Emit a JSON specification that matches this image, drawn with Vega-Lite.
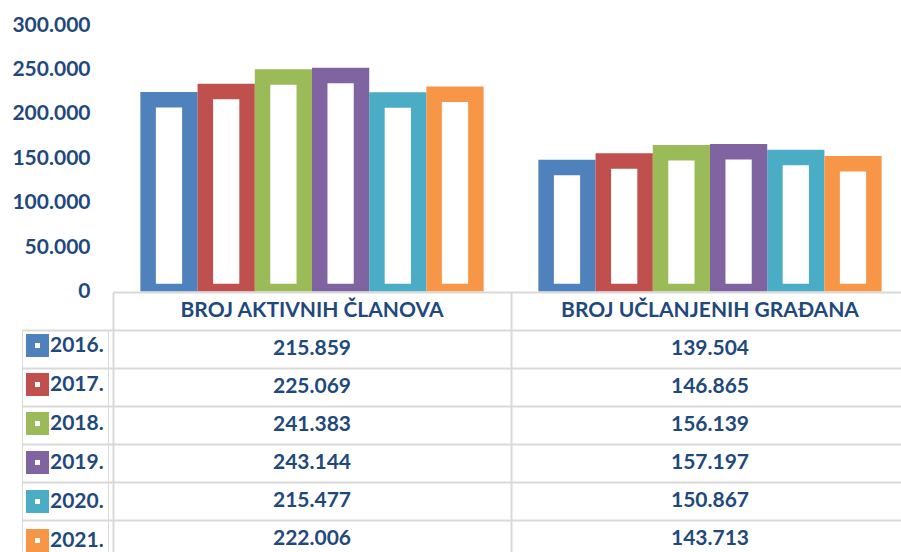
{
  "$schema": "https://vega.github.io/schema/vega-lite/v6.json",
  "autosize": {"type": "pad"},
  "padding": {"left": 11, "top": 14, "right": 0, "bottom": 0},
  "background": "white",
  "spacing": 0,
  "bounds": "flush",
  "config": {
    "locale": {"number": {"decimal": ",", "thousands": ".", "grouping": [3], "currency": ["", ""]}},
    "view": {"stroke": null},
    "font": "Lato"
  },
  "datasets": {
    "members": [
      {"category": "BROJ AKTIVNIH ČLANOVA", "year": "2016.", "value": 215859},
      {"category": "BROJ AKTIVNIH ČLANOVA", "year": "2017.", "value": 225069},
      {"category": "BROJ AKTIVNIH ČLANOVA", "year": "2018.", "value": 241383},
      {"category": "BROJ AKTIVNIH ČLANOVA", "year": "2019.", "value": 243144},
      {"category": "BROJ AKTIVNIH ČLANOVA", "year": "2020.", "value": 215477},
      {"category": "BROJ AKTIVNIH ČLANOVA", "year": "2021.", "value": 222006},
      {"category": "BROJ UČLANJENIH GRAĐANA", "year": "2016.", "value": 139504},
      {"category": "BROJ UČLANJENIH GRAĐANA", "year": "2017.", "value": 146865},
      {"category": "BROJ UČLANJENIH GRAĐANA", "year": "2018.", "value": 156139},
      {"category": "BROJ UČLANJENIH GRAĐANA", "year": "2019.", "value": 157197},
      {"category": "BROJ UČLANJENIH GRAĐANA", "year": "2020.", "value": 150867},
      {"category": "BROJ UČLANJENIH GRAĐANA", "year": "2021.", "value": 143713}
    ],
    "headers": [
      {"category": "BROJ AKTIVNIH ČLANOVA"},
      {"category": "BROJ UČLANJENIH GRAĐANA"}
    ]
  },
  "vconcat": [
    {
      "width": 788,
      "height": 266.5,
      "data": {"name": "members"},
      "mark": {"type": "bar", "fill": "white", "strokeWidth": 15.5, "clip": true},
      "encoding": {
        "x": {
          "field": "category", "type": "nominal", "sort": null,
          "scale": {"domain": ["BROJ AKTIVNIH ČLANOVA", "BROJ UČLANJENIH GRAĐANA"], "range": [0, 796], "paddingInner": 0, "paddingOuter": 0},
          "axis": null
        },
        "xOffset": {"field": "year", "type": "nominal", "scale": {"paddingInner": 0.27, "paddingOuter": 0.614}},
        "y": {
          "field": "value", "type": "quantitative",
          "scale": {"domain": [0, 300000], "nice": false},
          "axis": {
            "title": null, "values": [0, 50000, 100000, 150000, 200000, 250000, 300000],
            "format": ",d", "domain": false, "ticks": false, "grid": false,
            "labelPadding": 23, "labelFont": "Lato", "labelFontSize": 21, "labelFontWeight": "bold", "labelColor": "#1F497D"
          }
        },
        "stroke": {
          "field": "year", "type": "nominal",
          "scale": {"domain": ["2016.", "2017.", "2018.", "2019.", "2020.", "2021."], "range": ["#4F81BD", "#C0504D", "#9BBB59", "#8064A2", "#4BACC6", "#F79646"]},
          "legend": {
            "orient": "none", "legendX": -91, "legendY": 305, "title": null,
            "symbolType": "square", "symbolSize": 196, "symbolStrokeWidth": 9, "symbolFillColor": "white",
            "labelFont": "Lato", "labelFontSize": 21, "labelFontWeight": "bold", "labelColor": "#1F497D",
            "labelOffset": 1, "rowPadding": 16, "clipHeight": 23, "strokeColor": "#d9d9d9", "padding": 4,
            "labelExpr": "datum.label + '  '",
            "encode": {
              "symbols": {"update": {"fill": {"value": "white"}, "strokeWidth": {"value": 9}}},
              "legend": {"update": {"strokeWidth": {"value": 2}}}
            }
          }
        }
      }
    },
    {
      "width": 788,
      "height": 260,
      "layer": [
        {
          "data": {"name": "members"},
          "mark": {"type": "text", "font": "Lato", "fontSize": 21, "fontWeight": "bold", "color": "#1F497D"},
          "encoding": {
            "x": {
              "field": "category", "type": "nominal", "sort": null,
              "scale": {"domain": ["BROJ AKTIVNIH ČLANOVA", "BROJ UČLANJENIH GRAĐANA"], "range": [0, 796], "paddingInner": 0, "paddingOuter": 0},
              "axis": {"orient": "top", "title": null, "labels": false, "ticks": false, "domain": false, "grid": true, "gridColor": "#d9d9d9", "gridWidth": 2, "tickBand": "extent"}
            },
            "y": {
              "field": "year", "type": "nominal",
              "scale": {"domain": ["hdr", "2016.", "2017.", "2018.", "2019.", "2020.", "2021."], "range": [0, 266], "paddingInner": 0, "paddingOuter": 0},
              "axis": {
                "title": null, "labels": false, "domain": false,
                "ticks": true, "tickWidth": 2, "tickSize": 91,
                "tickColor": {"condition": {"test": "datum.extra != null", "value": "transparent"}, "value": "#d9d9d9"},
                "tickOpacity": {"condition": {"test": "datum.extra != null", "value": 0}, "value": 1},
                "grid": true, "gridColor": "#d9d9d9", "gridWidth": 2, "tickBand": "extent"
              }
            },
            "text": {"field": "value", "type": "quantitative", "format": ",d"}
          }
        },
        {
          "data": {"name": "headers"},
          "mark": {"type": "text", "font": "Lato", "fontSize": 21, "fontWeight": "bold", "color": "#1F497D"},
          "encoding": {
            "x": {"field": "category", "type": "nominal", "sort": null},
            "y": {"datum": "hdr", "type": "nominal"},
            "text": {"field": "category", "type": "nominal"}
          }
        }
      ]
    }
  ]
}
